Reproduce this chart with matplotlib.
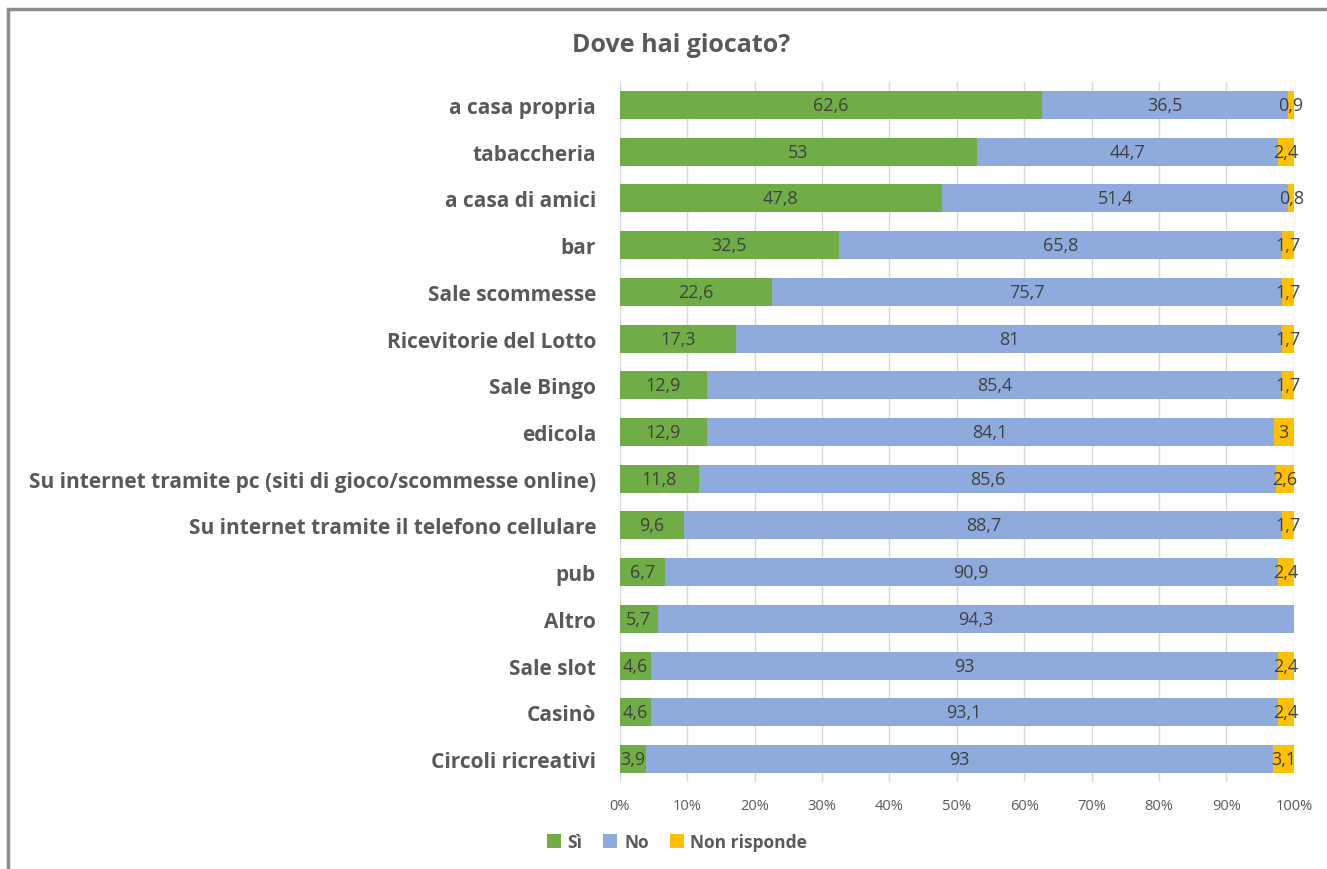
import numpy as np
import matplotlib.pyplot as plt
from matplotlib.patches import Rectangle

plt.rcParams['font.family'] = ['Open Sans', 'DejaVu Sans']

categories = ['a casa propria', 'tabaccheria', 'a casa di amici', 'bar',
              'Sale scommesse', 'Ricevitorie del Lotto', 'Sale Bingo', 'edicola',
              'Su internet tramite pc (siti di gioco/scommesse online)',
              'Su internet tramite il telefono cellulare', 'pub', 'Altro',
              'Sale slot', 'Casinò', 'Circoli ricreativi']
si = [62.6, 53, 47.8, 32.5, 22.6, 17.3, 12.9, 12.9, 11.8, 9.6, 6.7, 5.7, 4.6, 4.6, 3.9]
no = [36.5, 44.7, 51.4, 65.8, 75.7, 81, 85.4, 84.1, 85.6, 88.7, 90.9, 94.3, 93, 93.1, 93]
nr = [0.9, 2.4, 0.8, 1.7, 1.7, 1.7, 1.7, 3, 2.6, 1.7, 2.4, 0, 2.4, 2.4, 3.1]

series = [('Sì', si, '#70AD47'), ('No', no, '#8FAADC'), ('Non risponde', nr, '#FFC000')]

totals = np.array(si) + np.array(no) + np.array(nr)
y = np.arange(len(categories))

fig = plt.figure(figsize=(13.27, 8.70), dpi=100)
ax = fig.add_axes([0.467, 0.0995, 0.508, 0.8055])

left = np.zeros(len(categories))
for name, vals, col in series:
    share = np.array(vals) / totals
    ax.barh(y, share, left=left, height=0.6, color=col, label=name, zorder=2)
    for yi, (l, w, v) in enumerate(zip(left, share, vals)):
        if v == 0:
            continue
        txt = ('%g' % v).replace('.', ',')
        ax.text(l + w / 2, yi, txt, ha='center', va='center',
                fontsize=13, color='#404040', zorder=3)
    left += share

ax.set_xlim(0, 1)
ax.set_ylim(len(categories) - 0.5, -0.5)
ax.set_xticks(np.linspace(0, 1, 11))
ax.set_xticklabels(['%d%%' % p for p in range(0, 101, 10)], fontsize=10.5, color='#595959')
ax.set_yticks(y)
ax.set_yticklabels(categories, fontsize=15, fontweight='bold', color='#595959')
ax.tick_params(axis='both', length=0)
ax.tick_params(axis='x', pad=11)
ax.tick_params(axis='y', pad=17)
ax.grid(axis='x', color='#D9D9D9', linewidth=1, zorder=0)
ax.set_axisbelow(True)
for s in ax.spines.values():
    s.set_visible(False)

fig.text(0.513, 0.948, 'Dove hai giocato?', ha='center', va='center',
         fontsize=18, fontweight='bold', color='#595959')

ax.legend(loc='center', bbox_to_anchor=(0.085, -0.085), ncol=3, frameon=False,
          prop={'size': 12.5, 'weight': 'bold'}, labelcolor='#595959',
          handlelength=0.8, handleheight=0.8, handletextpad=0.4, columnspacing=1.2)

# outer chart frame
fig.patches.append(Rectangle((8 / 1327, -0.1), 1.2, 1 - 10 / 870 + 0.1,
                             transform=fig.transFigure, fill=False,
                             edgecolor='#8C8C8C', linewidth=2.5, clip_on=False))

fig.savefig('out.png', dpi=100)
